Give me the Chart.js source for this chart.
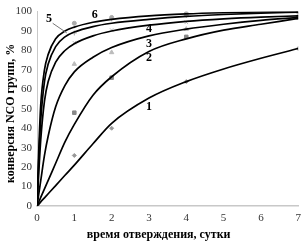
<!DOCTYPE html>
<html>
<head>
<meta charset="utf-8">
<script src="https://cdn.jsdelivr.net/npm/chart.js@4"></script>
<style>
  html, body { margin: 0; padding: 0; background: #fff; }
  #wrap { width: 307px; height: 244px; }
</style>
</head>
<body>
<div id="wrap"><canvas id="chart"></canvas></div>
<script>
// measured points (time, days)
const pointDays = [0, 1, 2, 4, 7];
const pts1 = [0, 26, 40, 64, 81];
const pts2 = [0, 48, 66, 87, 97];
const pts3 = [0, 73, 79, 91, 97];
const pts4 = [0, 84, 90.5, 94.5, 98];
const pts5 = [0, 89, 96.3, 98, 99.5];
const pts6 = [0, 94, 97, 99, 100];

// trend curves
const curveDays = [0, 0.05, 0.1, 0.2, 0.3, 0.5, 0.75, 1, 1.5, 2, 3, 4, 5, 6, 7];
const curve1 = [0, 1, 2.1, 4.2, 6.3, 10.5, 15.8, 21, 32, 42.5, 55.5, 64, 70.5, 76, 81];
const curve2 = [0, 2.2, 4.4, 8.8, 13.2, 22, 33, 42, 57, 66.5, 79.5, 86, 90.5, 93.5, 96.5];
const curve3 = [0, 6.5, 13, 26, 36, 51, 62, 69, 76.5, 81.5, 87.5, 91, 93.5, 95.5, 97];
const curve4 = [0, 18, 34, 54, 64, 74, 80, 83.5, 87.5, 90, 93, 95, 96.3, 97.2, 97.8];
const curve5 = [0, 25, 44, 64, 73, 82, 87, 89.5, 92.3, 94, 96, 97.5, 98.5, 99.2, 99.7];
const curve6 = [0, 30, 52, 70, 78, 86, 90, 92, 94.5, 96, 97.8, 98.8, 99.4, 99.8, 100];

// curve numbers: [text, day, value]
const curveLabels = [
  ["1", 3.0, 51],
  ["2", 3.0, 76],
  ["3", 3.0, 83.5],
  ["4", 3.0, 91],
  ["6", 1.55, 98.5],
  ["5", 0.32, 96]
];

const xy = (xs, ys) => xs.map((x, i) => ({ x: x, y: ys[i] }));

const curve = (ys) => ({
  type: "line",
  data: xy(curveDays, ys),
  borderColor: "#000",
  borderWidth: 1.7,
  pointRadius: 0,
  cubicInterpolationMode: "monotone",
  fill: false,
  order: 1
});

const marks = (ys, style, color, r) => ({
  type: "scatter",
  data: xy(pointDays, ys),
  pointStyle: style,
  pointRadius: r,
  backgroundColor: color,
  borderColor: color,
  borderWidth: 1,
  order: 2
});

const labelPlugin = {
  id: "curveLabels",
  afterDatasetsDraw(chart) {
    const ctx = chart.ctx;
    const xs = chart.scales.x, ys = chart.scales.y;
    ctx.save();
    ctx.fillStyle = "#000";
    ctx.font = "bold 12px 'Liberation Serif'";
    ctx.textAlign = "center";
    ctx.textBaseline = "middle";
    curveLabels.forEach(([t, d, v]) => {
      ctx.fillText(t, xs.getPixelForValue(d), ys.getPixelForValue(v));
    });
    // leader for label 5
    ctx.strokeStyle = "#777";
    ctx.lineWidth = 1;
    ctx.beginPath();
    ctx.moveTo(xs.getPixelForValue(0.42), ys.getPixelForValue(94));
    ctx.lineTo(xs.getPixelForValue(0.8), ys.getPixelForValue(89));
    ctx.stroke();
    ctx.restore();
  }
};

new Chart(document.getElementById("chart"), {
  data: {
    datasets: [
      curve(curve1), curve(curve2), curve(curve3),
      curve(curve4), curve(curve5), curve(curve6),
      marks(pts1, "rectRot", "#999", 2),
      marks(pts2, "rect", "#888", 2.5),
      marks(pts3, "triangle", "#bbb", 2.5),
      marks(pts4, "crossRot", "#bbb", 2.5),
      marks(pts5, "cross", "#aaa", 2.5),
      marks(pts6, "circle", "#aaa", 2)
    ]
  },
  options: {
    responsive: true,
    maintainAspectRatio: false,
    animation: false,
    layout: { padding: { top: 4, right: 8, left: 0, bottom: 0 } },
    plugins: { legend: { display: false }, tooltip: { enabled: false } },
    scales: {
      x: {
        type: "linear",
        min: 0,
        max: 7,
        afterFit: (s) => { s.height = 38; },
        ticks: { stepSize: 1, color: "#333", font: { family: "Liberation Serif", size: 11 }, padding: 6 },
        grid: { display: false, drawTicks: false },
        border: { color: "#c8c8c8", width: 1.5 },
        title: {
          display: true,
          // trailing spaces nudge the centred title left, as in the original
          text: "время отверждения, сутки\u00a0\u00a0\u00a0\u00a0\u00a0\u00a0",
          color: "#000",
          font: { family: "Liberation Serif", size: 12, weight: "bold" },
          padding: { top: 3, bottom: 2 }
        }
      },
      y: {
        min: 0,
        max: 100,
        afterFit: (s) => { s.width = 37; },
        ticks: { stepSize: 10, color: "#333", font: { family: "Liberation Serif", size: 11 }, padding: 5 },
        grid: { display: false, drawTicks: false },
        border: { color: "#c8c8c8", width: 1 },
        title: {
          display: true,
          text: "конверсия NCO групп, %\u00a0\u00a0\u00a0",
          color: "#000",
          font: { family: "Liberation Serif", size: 12, weight: "bold" },
          padding: { top: 4, bottom: 0 }
        }
      }
    }
  },
  plugins: [labelPlugin]
});
</script>
</body>
</html>
